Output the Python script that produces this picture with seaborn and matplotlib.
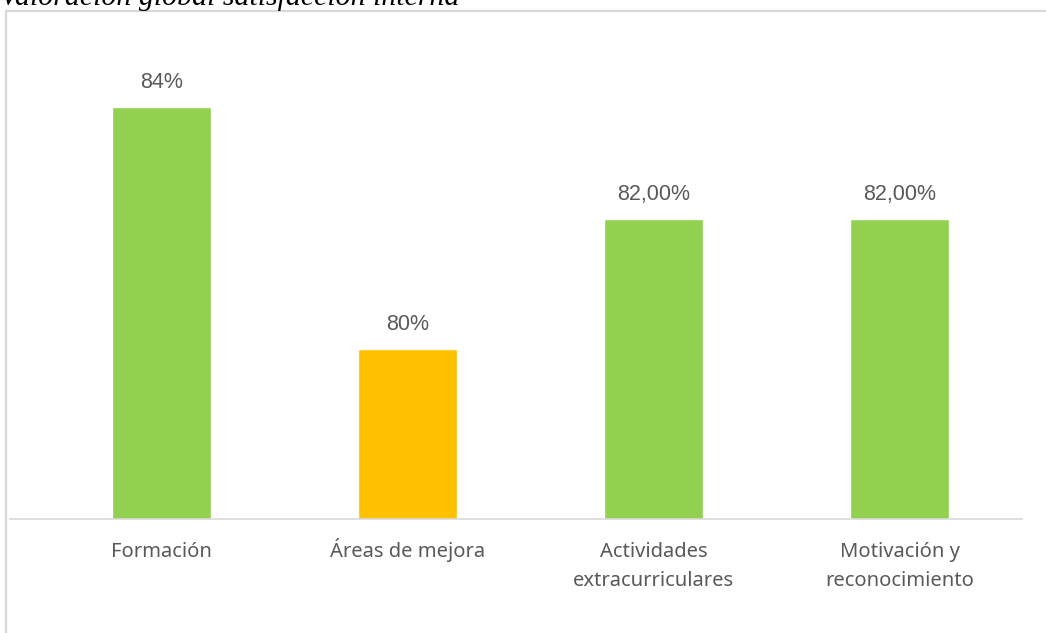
import matplotlib
matplotlib.use("Agg")
import matplotlib.pyplot as plt
from matplotlib.patches import Rectangle
from matplotlib.transforms import offset_copy
import seaborn as sns
import pandas as pd

# data
categorias = ["Formación", "Áreas de mejora", "Actividades\nextracurriculares", "Motivación y\nreconocimiento"]
valores = [0.84, 0.80, 0.8215, 0.8215]
etiquetas = ["84%", "80%", "82,00%", "82,00%"]
colores = ["#92D050", "#FFC000", "#92D050", "#92D050"]
titulo = "Valoración global satisfacción interna"

df = pd.DataFrame({"categoria": categorias, "valor": valores})

sns.set_theme(style="white")
W, H = 1046, 633
fig = plt.figure(figsize=(W / 100, H / 100), dpi=100)
ax = fig.add_axes([10 / W, 1 - 519 / H, 1012 / W, 479 / H])

sns.barplot(data=df, x="categoria", y="valor", hue="categoria", palette=colores,
            width=0.4, legend=False, ax=ax, saturation=1)

ax.set_xlim(-0.616, 3.498)
ax.set_ylim(0.772, 0.851)

for p, lab in zip(ax.patches, etiquetas):
    ax.annotate(lab, (p.get_x() + p.get_width() / 2, p.get_height()),
                xytext=(0, 19), textcoords="offset pixels", ha="center", va="baseline",
                fontsize=15.5, color="#595959", family=["Liberation Sans", "DejaVu Sans"])

for s in ["top", "right", "left"]:
    ax.spines[s].set_visible(False)
ax.spines["bottom"].set_color("#d9d9d9")
ax.spines["bottom"].set_linewidth(1.2)
ax.set_yticks([])
ax.set_xlabel("")
ax.set_ylabel("")
ax.tick_params(axis="x", length=0)
ax.set_xticklabels([""] * len(categorias))

# category labels, each line on its own baseline
for i, cat in enumerate(categorias):
    for j, linea in enumerate(cat.split("\n")):
        tr = offset_copy(ax.get_xaxis_transform(), fig=fig, x=0, y=-(38 + 29 * j) * 72 / 100, units="points")
        ax.text(i, 0, linea, transform=tr, ha="center", va="baseline", fontsize=14.5,
                color="#595959", family=["Noto Sans", "DejaVu Sans"], clip_on=False)

# chart border (runs off right and bottom edges)
fig.patches.append(Rectangle((6 / W, -0.05), 1.1, 1 - 11 / H + 0.05, transform=fig.transFigure,
                             fill=False, edgecolor="#d9d9d9", linewidth=1.6, zorder=0))

fig.text(0, 1 - 5 / H, titulo, ha="left", va="baseline", fontsize=21.5, style="italic",
         family=["Liberation Serif", "DejaVu Serif"], color="black")

fig.savefig("out.png", dpi=100)
